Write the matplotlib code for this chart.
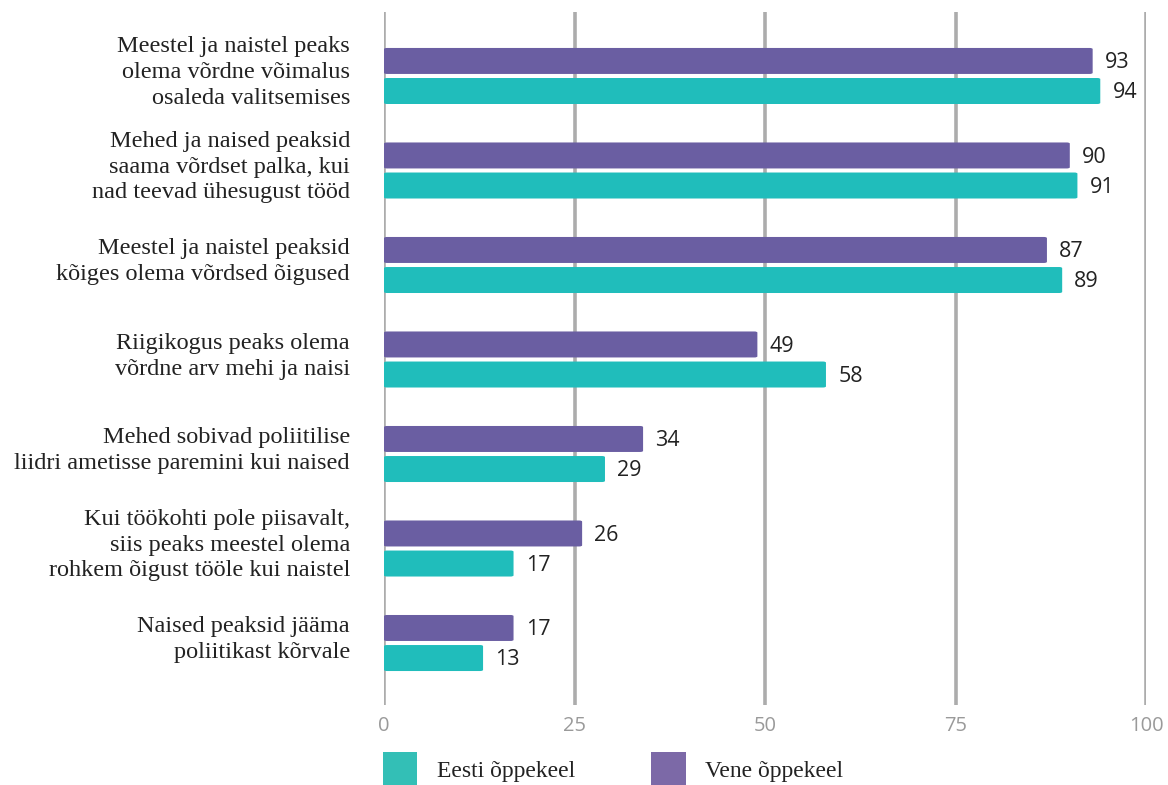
import matplotlib
matplotlib.use("Agg")
import matplotlib.pyplot as plt
from matplotlib.patches import FancyBboxPatch, Rectangle

categories = [
    "Meestel ja naistel peaks\nolema võrdne võimalus\nosaleda valitsemises",
    "Mehed ja naised peaksid\nsaama võrdset palka, kui\nnad teevad ühesugust tööd",
    "Meestel ja naistel peaksid\nkõiges olema võrdsed õigused",
    "Riigikogus peaks olema\nvõrdne arv mehi ja naisi",
    "Mehed sobivad poliitilise\nliidri ametisse paremini kui naised",
    "Kui töökohti pole piisavalt,\nsiis peaks meestel olema\nrohkem õigust tööle kui naistel",
    "Naised peaksid jääma\npoliitikast kõrvale",
]
vene = [93, 90, 87, 49, 34, 26, 17]
eesti = [94, 91, 89, 58, 29, 17, 13]
series_names = ["Eesti õppekeel", "Vene õppekeel"]
xticks = [0, 25, 50, 75, 100]

purple = "#6a5ea2"
teal = "#20bdbb"
grid_col = "#acacac"

W, H = 1168, 785
fig = plt.figure(figsize=(W / 100, H / 100), dpi=100)
ax = fig.add_axes([384 / W, 1 - 705 / H, (1146 - 384) / W, (705 - 12) / H])

bh = 0.275
off = 0.159
ypos = list(range(len(categories)))

for y, v, e in zip(ypos, vene, eesti):
    for val, yc, col in ((v, y - off, purple), (e, y + off, teal)):
        bars = ax.barh(yc, val, height=bh, color=col, alpha=0)
        b = bars[0]
        ax.add_patch(FancyBboxPatch((b.get_x(), b.get_y()), b.get_width(), b.get_height(),
                                    boxstyle="round,pad=0,rounding_size=0.4",
                                    mutation_aspect=0.03,
                                    facecolor=col, edgecolor="none", zorder=3))
        ax.text(val + 1.6, yc + 0.02, str(val), va="center", ha="left",
                fontsize=15.5, color="#222222", family="Open Sans", zorder=4)

ax.set_xlim(0, 100)
ax.set_ylim(6.656, -0.677)
for x in xticks:
    ax.axvline(x, color=grid_col, lw=2.6, zorder=1)
for s in ax.spines.values():
    s.set_visible(False)
ax.set_yticks([])
ax.set_xticks(xticks)
ax.set_xticklabels([str(x) for x in xticks], family="Open Sans", fontsize=14.5, color="#9a9a9a")
ax.tick_params(axis="x", length=0, pad=8)

for y, lab in zip(ypos, categories):
    ax.text(-34 / 762 * 100, y - 0.035, lab, ha="right", va="center", fontsize=17.5,
            family="Liberation Serif", color="#222222", linespacing=1.3)

# legend
fig.patches.append(Rectangle((383 / W, 1 - 785 / H), 34 / W, 33 / H, transform=fig.transFigure,
                             facecolor="#33bfb6", edgecolor="none"))
fig.text(437 / W, 1 - 771 / H, series_names[0], fontsize=17, family="Liberation Serif",
         color="#222222", va="center")
fig.patches.append(Rectangle((651 / W, 1 - 785 / H), 35 / W, 33 / H, transform=fig.transFigure,
                             facecolor="#7c69a7", edgecolor="none"))
fig.text(705 / W, 1 - 771 / H, series_names[1], fontsize=17, family="Liberation Serif",
         color="#222222", va="center")

fig.savefig("out.png", dpi=100)
